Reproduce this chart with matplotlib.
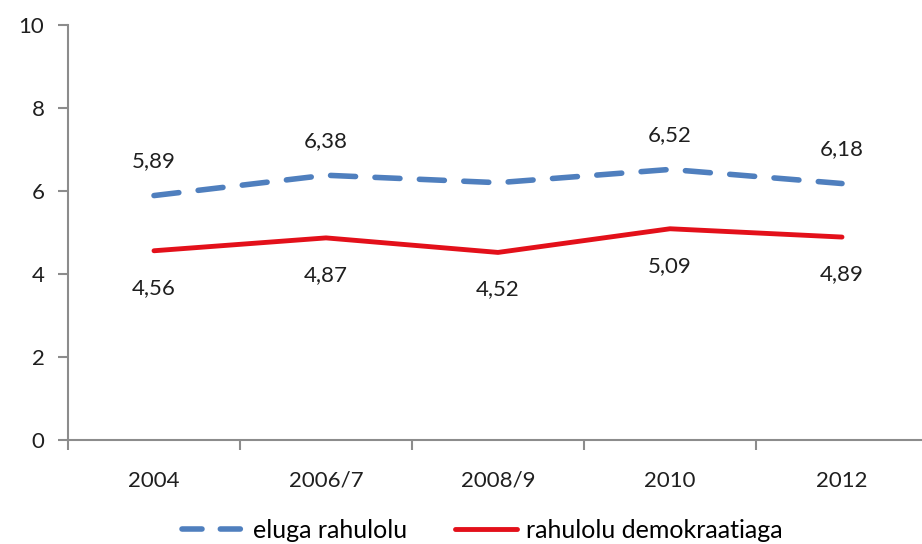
import matplotlib.pyplot as plt
from matplotlib.lines import Line2D

# andmed
years = ['2004', '2006/7', '2008/9', '2010', '2012']
eluga = [5.89, 6.38, 6.20, 6.52, 6.18]
eluga_labels = ['5,89', '6,38', '', '6,52', '6,18']
demokraatia = [4.56, 4.87, 4.52, 5.09, 4.89]
demokraatia_labels = ['4,56', '4,87', '4,52', '5,09', '4,89']

plt.rcParams['font.family'] = ['Lato', 'DejaVu Sans']

blue = '#4f7fbe'
red = '#e3101a'
grey = '#8c8c8c'
txt = '#1f1f1f'
fs = 16

fig = plt.figure(figsize=(9.22, 5.44), dpi=100)
ax = fig.add_axes([68 / 922, 104 / 544, 860 / 922, 415 / 544])

x = list(range(len(years)))
ax.plot(x, eluga, color=blue, lw=4, linestyle=(0, (4.5, 3.5)),
        dash_capstyle='round')
ax.plot(x, demokraatia, color=red, lw=3.5, solid_capstyle='round')

for i, (v, t) in enumerate(zip(eluga, eluga_labels)):
    if t:
        ax.annotate(t, (i, v), xytext=(0, 34), textcoords='offset pixels',
                    ha='center', va='center', fontsize=fs, color=txt)
for i, (v, t) in enumerate(zip(demokraatia, demokraatia_labels)):
    ax.annotate(t, (i, v), xytext=(0, -37), textcoords='offset pixels',
                ha='center', va='center', fontsize=fs, color=txt)

ax.set_xlim(-0.5, 4.5)
ax.set_ylim(0, 10)
ax.set_yticks(range(0, 11, 2))
ax.set_xticks([i + 0.5 for i in range(-1, 5)], minor=False)
ax.set_xticklabels([])
ax.set_xticks(x, minor=True)
ax.set_xticklabels(years, minor=True)

for s in ['top', 'right']:
    ax.spines[s].set_visible(False)
for s in ['left', 'bottom']:
    ax.spines[s].set_color(grey)
    ax.spines[s].set_linewidth(1.5)
ax.tick_params(axis='y', which='major', length=7, width=1.5, color=grey,
               labelsize=fs, labelcolor=txt, pad=10)
ax.tick_params(axis='x', which='major', length=7, width=1.5, color=grey)
ax.tick_params(axis='x', which='minor', length=0, labelsize=fs,
               labelcolor=txt, pad=22)

handles = [
    Line2D([], [], color=blue, lw=4, linestyle=(0, (3.6, 3.3)), dash_capstyle='round'),
    Line2D([], [], color=red, lw=3.5, solid_capstyle='round'),
]
fig.legend(handles, ['eluga rahulolu', 'rahulolu demokraatiaga'],
           loc='center', bbox_to_anchor=(0.523, 0.025), ncol=2, frameon=False,
           fontsize=18, handlelength=2.5, handletextpad=0.35, columnspacing=1.9)

fig.savefig('out.png', dpi=100)
